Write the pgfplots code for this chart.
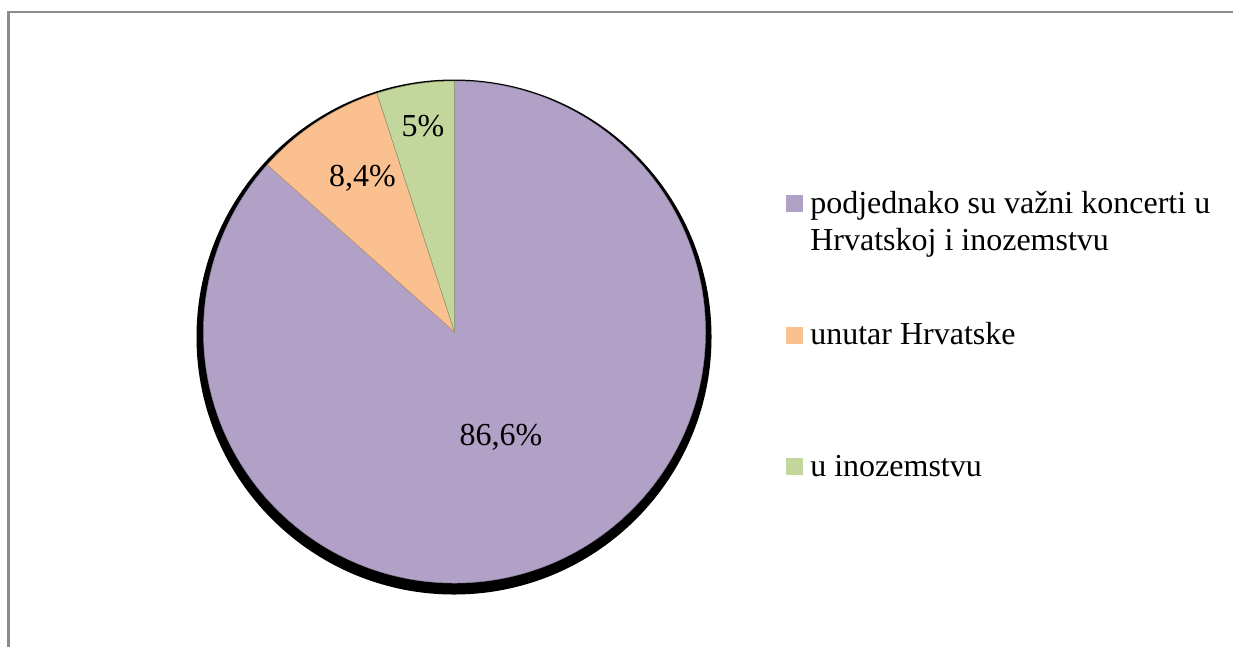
\documentclass[border=0pt]{standalone}
\usepackage{pgfplots}
\pgfplotsset{compat=1.18}
\usepackage{fontspec}
\setmainfont{Liberation Serif}
\definecolor{piePurple}{HTML}{B2A1C7}
\definecolor{pieOrange}{HTML}{FAC090}
\definecolor{pieGreen}{HTML}{C3D69B}
\definecolor{frameGray}{HTML}{8C8C8C}
\begin{document}
\begin{tikzpicture}
% shares (percent), clockwise from 12 o'clock
\def\vA{86.6}\def\vB{8.4}\def\vC{5.0}
\pgfmathsetmacro\aA{90-3.6*\vA}
\pgfmathsetmacro\aB{\aA-3.6*\vB}
\pgfmathsetmacro\aC{\aB-3.6*\vC}
\def\R{150.6pt}   % 251 px
\def\RS{154.5pt}  % shadow radius
\begin{axis}[name=ax,
  scale only axis, width=739.8pt, height=387.6pt,
  xmin=0, xmax=1233, ymin=0, ymax=646,
  hide axis, clip=true]
% frame
\draw[frameGray, line width=1.3pt] (axis cs:8.5,-20) -- (axis cs:8.5,634) -- (axis cs:1260,634);
% shadow
\fill[black] (axis cs:454,309) circle[radius=\RS];
% slices
\filldraw[fill=piePurple, draw=piePurple!80!black, line width=0.3pt] (axis cs:454.5,314) -- ++(90:\R) arc[start angle=90, end angle=\aA, radius=\R] -- cycle;
\filldraw[fill=pieOrange, draw=pieOrange!75!black, line width=0.3pt] (axis cs:454.5,314) -- ++(\aA:\R) arc[start angle=\aA, end angle=\aB, radius=\R] -- cycle;
\filldraw[fill=pieGreen, draw=pieGreen!70!black, line width=0.3pt] (axis cs:454.5,314) -- ++(\aB:\R) arc[start angle=\aB, end angle=\aC, radius=\R] -- cycle;
% data labels
\node[anchor=base, font=\fontsize{19.2pt}{23pt}\selectfont, inner sep=0pt] at (axis cs:501,201) {86,6\%};
\node[anchor=base, font=\fontsize{19.2pt}{23pt}\selectfont, inner sep=0pt] at (axis cs:362.5,459.3) {8,4\%};
\node[anchor=base, font=\fontsize{19.2pt}{23pt}\selectfont, inner sep=0pt] at (axis cs:423,510) {5\%};
% legend
\fill[piePurple] (axis cs:786,451) rectangle (axis cs:803,434);
\node[anchor=base west, font=\fontsize{19.2pt}{23pt}\selectfont, inner sep=0pt] at (axis cs:810,433) {podjednako su važni koncerti u};
\node[anchor=base west, font=\fontsize{19.2pt}{23pt}\selectfont, inner sep=0pt] at (axis cs:810,396) {Hrvatskoj i inozemstvu};
\fill[pieOrange] (axis cs:786,319) rectangle (axis cs:803,302);
\node[anchor=base west, font=\fontsize{19.2pt}{23pt}\selectfont, inner sep=0pt] at (axis cs:810,302) {unutar Hrvatske};
\fill[pieGreen] (axis cs:786,188) rectangle (axis cs:803,171);
\node[anchor=base west, font=\fontsize{19.2pt}{23pt}\selectfont, inner sep=0pt] at (axis cs:810,170) {u inozemstvu};
\end{axis}
\pgfresetboundingbox
\useasboundingbox (ax.south west) rectangle (ax.north east);
\end{tikzpicture}
\end{document}
